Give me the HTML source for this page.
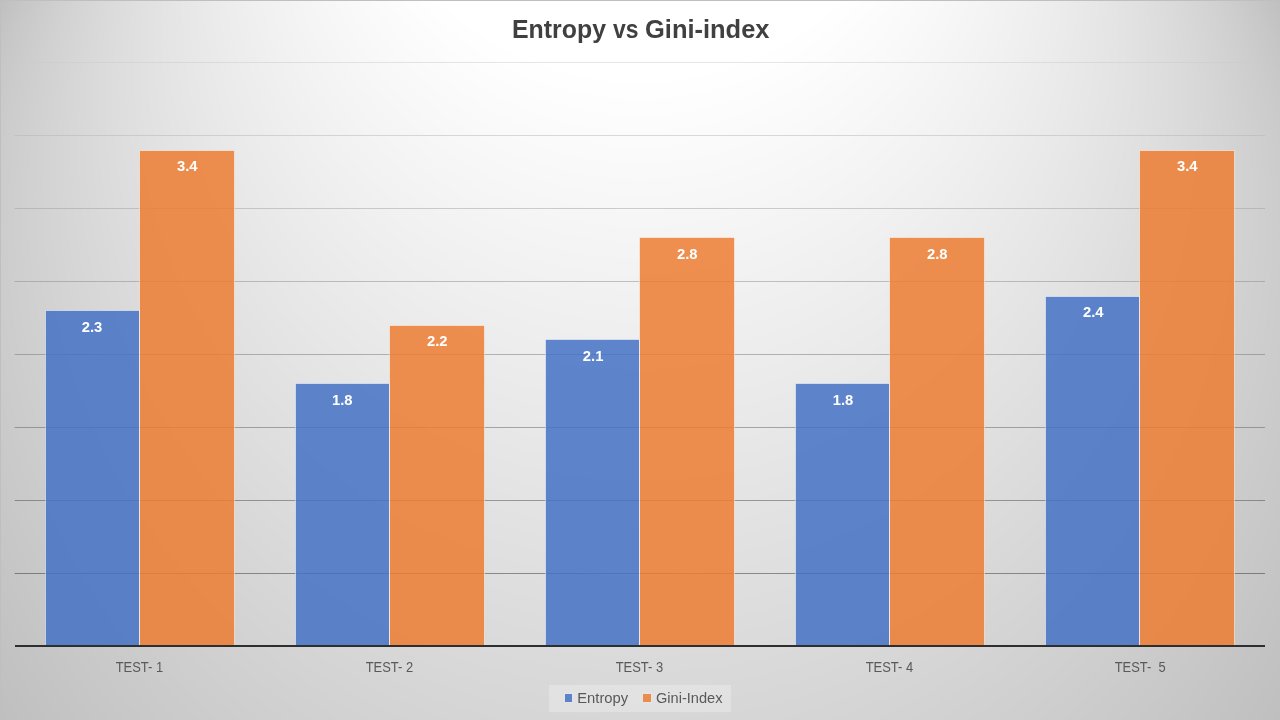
<!DOCTYPE html>
<html lang="en">
<head>
<meta charset="utf-8">
<title>Entropy vs Gini-index</title>
<style>
  html, body { margin: 0; padding: 0; }
  body {
    width: 1280px; height: 720px; overflow: hidden; position: relative;
    font-family: "Liberation Sans", sans-serif;
    background: #bfbfbf;
  }
  svg { position: absolute; left: 0; top: 0; will-change: transform; }
  .title { font-family: "Liberation Sans", sans-serif; font-weight: bold; font-size: 25.4px; fill: #404040; }
  .dl { font-family: "Liberation Sans", sans-serif; font-weight: bold; font-size: 14.8px; fill: #ffffff; text-anchor: middle; }
  .cat { font-family: "Liberation Sans", sans-serif; font-size: 14.7px; fill: #595959; }
  .leg { font-family: "Liberation Sans", sans-serif; font-size: 13.8px; fill: #595959; }
</style>
</head>
<body>

<svg width="1280" height="720" viewBox="0 0 1280 720">
  <defs>
    <linearGradient id="gridgrad" gradientUnits="userSpaceOnUse" x1="0" y1="62" x2="0" y2="646">
      <stop offset="0" stop-color="#cacaca"/>
      <stop offset="1" stop-color="#151515"/>
    </linearGradient>
  </defs>

  <!-- chart-area fill: Office 'circle' path gradient (focus 50%,-80%) rendered as nested iso-circles -->
  <g id="bgfill">
<circle cx="640" cy="355.5" r="730.8" fill="#c0c0c0"/>
<circle cx="640" cy="346.6" r="723.8" fill="#c1c1c1"/>
<circle cx="640" cy="337.7" r="716.8" fill="#c2c2c2"/>
<circle cx="640" cy="328.8" r="709.8" fill="#c3c3c3"/>
<circle cx="640" cy="319.9" r="702.8" fill="#c4c4c4"/>
<circle cx="640" cy="310.9" r="695.8" fill="#c5c5c5"/>
<circle cx="640" cy="302.0" r="688.8" fill="#c6c6c6"/>
<circle cx="640" cy="293.1" r="681.8" fill="#c7c7c7"/>
<circle cx="640" cy="284.2" r="674.8" fill="#c8c8c8"/>
<circle cx="640" cy="275.2" r="667.8" fill="#c9c9c9"/>
<circle cx="640" cy="266.3" r="660.8" fill="#cacaca"/>
<circle cx="640" cy="257.4" r="653.8" fill="#cbcbcb"/>
<circle cx="640" cy="248.5" r="646.8" fill="#cccccc"/>
<circle cx="640" cy="239.6" r="639.8" fill="#cdcdcd"/>
<circle cx="640" cy="230.6" r="632.8" fill="#cecece"/>
<circle cx="640" cy="221.7" r="625.8" fill="#cfcfcf"/>
<circle cx="640" cy="212.8" r="618.8" fill="#d0d0d0"/>
<circle cx="640" cy="203.9" r="611.8" fill="#d1d1d1"/>
<circle cx="640" cy="195.0" r="604.8" fill="#d2d2d2"/>
<circle cx="640" cy="186.0" r="597.8" fill="#d3d3d3"/>
<circle cx="640" cy="177.1" r="590.8" fill="#d4d4d4"/>
<circle cx="640" cy="168.2" r="583.8" fill="#d5d5d5"/>
<circle cx="640" cy="159.3" r="576.8" fill="#d6d6d6"/>
<circle cx="640" cy="150.4" r="569.8" fill="#d7d7d7"/>
<circle cx="640" cy="141.4" r="562.8" fill="#d8d8d8"/>
<circle cx="640" cy="132.5" r="555.8" fill="#d9d9d9"/>
<circle cx="640" cy="123.6" r="548.8" fill="#dadada"/>
<circle cx="640" cy="114.7" r="541.8" fill="#dbdbdb"/>
<circle cx="640" cy="105.7" r="534.8" fill="#dcdcdc"/>
<circle cx="640" cy="96.8" r="527.8" fill="#dddddd"/>
<circle cx="640" cy="87.9" r="520.8" fill="#dedede"/>
<circle cx="640" cy="79.0" r="513.8" fill="#dfdfdf"/>
<circle cx="640" cy="70.1" r="506.8" fill="#e0e0e0"/>
<circle cx="640" cy="61.1" r="499.8" fill="#e1e1e1"/>
<circle cx="640" cy="52.2" r="492.8" fill="#e2e2e2"/>
<circle cx="640" cy="43.3" r="485.8" fill="#e3e3e3"/>
<circle cx="640" cy="34.4" r="478.8" fill="#e4e4e4"/>
<circle cx="640" cy="25.5" r="471.8" fill="#e5e5e5"/>
<circle cx="640" cy="16.5" r="464.8" fill="#e6e6e6"/>
<circle cx="640" cy="7.6" r="457.8" fill="#e7e7e7"/>
<circle cx="640" cy="-1.3" r="450.9" fill="#e8e8e8"/>
<circle cx="640" cy="-10.2" r="443.9" fill="#e9e9e9"/>
<circle cx="640" cy="-19.2" r="436.9" fill="#eaeaea"/>
<circle cx="640" cy="-28.1" r="429.9" fill="#ebebeb"/>
<circle cx="640" cy="-37.0" r="422.9" fill="#ececec"/>
<circle cx="640" cy="-45.9" r="415.9" fill="#ededed"/>
<circle cx="640" cy="-54.8" r="408.9" fill="#eeeeee"/>
<circle cx="640" cy="-63.8" r="401.9" fill="#efefef"/>
<circle cx="640" cy="-72.7" r="394.9" fill="#f0f0f0"/>
<circle cx="640" cy="-81.6" r="387.9" fill="#f1f1f1"/>
<circle cx="640" cy="-90.5" r="380.9" fill="#f2f2f2"/>
<circle cx="640" cy="-99.4" r="373.9" fill="#f3f3f3"/>
<circle cx="640" cy="-108.4" r="366.9" fill="#f4f4f4"/>
<circle cx="640" cy="-117.3" r="359.9" fill="#f5f5f5"/>
<circle cx="640" cy="-126.2" r="352.9" fill="#f6f6f6"/>
<circle cx="640" cy="-135.1" r="345.9" fill="#f7f7f7"/>
<circle cx="640" cy="-144.1" r="338.9" fill="#f8f8f8"/>
<circle cx="640" cy="-153.0" r="331.9" fill="#f9f9f9"/>
<circle cx="640" cy="-161.9" r="324.9" fill="#fafafa"/>
<circle cx="640" cy="-170.8" r="317.9" fill="#fbfbfb"/>
<circle cx="640" cy="-179.7" r="310.9" fill="#fcfcfc"/>
<circle cx="640" cy="-188.7" r="303.9" fill="#fdfdfd"/>
<circle cx="640" cy="-197.6" r="296.9" fill="#fefefe"/>
<circle cx="640" cy="-206.5" r="289.9" fill="#ffffff"/>
  </g>

  <!-- chart-area border (only top/left edges fall inside the frame) -->
  <rect x="0" y="0" width="1280" height="1" fill="#bfbfbf"/>
  <rect x="0" y="0" width="1" height="720" fill="#bfbfbf"/>

  <!-- gridlines -->
  <g fill="url(#gridgrad)" fill-opacity="0.48">
    <rect x="14.6" y="62" width="1250.4" height="1"/>
    <rect x="14.6" y="135" width="1250.4" height="1"/>
    <rect x="14.6" y="208" width="1250.4" height="1"/>
    <rect x="14.6" y="281" width="1250.4" height="1"/>
    <rect x="14.6" y="354" width="1250.4" height="1"/>
    <rect x="14.6" y="427" width="1250.4" height="1"/>
    <rect x="14.6" y="500" width="1250.4" height="1"/>
    <rect x="14.6" y="573" width="1250.4" height="1"/>
  </g>

  <!-- bars: 85% opaque fills with a thin translucent white outline -->
  <g fill="#4472c4" fill-opacity="0.85">
    <rect x="45.5" y="310.5" width="94.0" height="335.5"/>
    <rect x="295.5" y="383.5" width="94.0" height="262.5"/>
    <rect x="545.5" y="339.5" width="94.0" height="306.5"/>
    <rect x="795.5" y="383.5" width="94.0" height="262.5"/>
    <rect x="1045.5" y="296.5" width="94.0" height="349.5"/>
  </g>
  <g fill="#ed7d31" fill-opacity="0.85">
    <rect x="139.5" y="150.5" width="95.0" height="495.5"/>
    <rect x="389.5" y="325.5" width="95.0" height="320.5"/>
    <rect x="639.5" y="237.5" width="95.0" height="408.5"/>
    <rect x="889.5" y="237.5" width="95.0" height="408.5"/>
    <rect x="1139.5" y="150.5" width="95.0" height="495.5"/>
  </g>
  <g fill="none" stroke="#ffffff" stroke-opacity="0.5" stroke-width="1">
    <path d="M45.5,645 V310.5 H139.5 V645"/>
    <path d="M295.5,645 V383.5 H389.5 V645"/>
    <path d="M545.5,645 V339.5 H639.5 V645"/>
    <path d="M795.5,645 V383.5 H889.5 V645"/>
    <path d="M1045.5,645 V296.5 H1139.5 V645"/>
    <path d="M139.5,645 V150.5 H234.5 V645"/>
    <path d="M389.5,645 V325.5 H484.5 V645"/>
    <path d="M639.5,645 V237.5 H734.5 V645"/>
    <path d="M889.5,645 V237.5 H984.5 V645"/>
    <path d="M1139.5,645 V150.5 H1234.5 V645"/>
  </g>

  <!-- category axis -->
  <rect x="15" y="645" width="1250" height="2" fill="#2e2e2e"/>

  <!-- title -->
  <text class="title" x="512" y="37.6" textLength="94" lengthAdjust="spacingAndGlyphs">Entropy</text>
  <text class="title" x="613" y="37.6" textLength="25.5" lengthAdjust="spacingAndGlyphs">vs</text>
  <text class="title" x="645" y="37.6" textLength="124.5" lengthAdjust="spacingAndGlyphs">Gini-index</text>

  <!-- data labels -->
  <text class="dl" x="92.0"   y="332.2">2.3</text>
  <text class="dl" x="187.2"  y="171.2">3.4</text>
  <text class="dl" x="342.3"  y="405.2">1.8</text>
  <text class="dl" x="437.2"  y="346.2">2.2</text>
  <text class="dl" x="593.1"  y="361.2">2.1</text>
  <text class="dl" x="687.2"  y="259.2">2.8</text>
  <text class="dl" x="843.0"  y="405.2">1.8</text>
  <text class="dl" x="937.2"  y="259.2">2.8</text>
  <text class="dl" x="1093.2" y="317.2">2.4</text>
  <text class="dl" x="1187.2" y="171.2">3.4</text>

  <!-- category labels -->
  <text class="cat" x="115.7"  y="672" textLength="47.5" lengthAdjust="spacingAndGlyphs">TEST- 1</text>
  <text class="cat" x="365.7"  y="672" textLength="47.5" lengthAdjust="spacingAndGlyphs">TEST- 2</text>
  <text class="cat" x="615.7"  y="672" textLength="47.5" lengthAdjust="spacingAndGlyphs">TEST- 3</text>
  <text class="cat" x="865.7"  y="672" textLength="47.5" lengthAdjust="spacingAndGlyphs">TEST- 4</text>
  <text class="cat" x="1114.7" y="672" textLength="51" lengthAdjust="spacingAndGlyphs" xml:space="preserve">TEST-  5</text>

  <!-- legend -->
  <rect x="549" y="685" width="182" height="27" fill="#f2f2f2" fill-opacity="0.39"/>
  <rect x="565" y="694" width="7" height="8" fill="#4472c4" fill-opacity="0.85"/>
  <rect x="564.5" y="693.5" width="8" height="9" fill="none" stroke="#ffffff" stroke-opacity="0.12"/>
  <text class="leg" x="577.2" y="702.7" textLength="51" lengthAdjust="spacingAndGlyphs">Entropy</text>
  <rect x="643" y="694" width="8" height="8" fill="#ed7d31" fill-opacity="0.85"/>
  <rect x="642.5" y="693.5" width="9" height="9" fill="none" stroke="#ffffff" stroke-opacity="0.12"/>
  <text class="leg" x="656" y="702.7" textLength="66.5" lengthAdjust="spacingAndGlyphs">Gini-Index</text>
</svg>
</body>
</html>
